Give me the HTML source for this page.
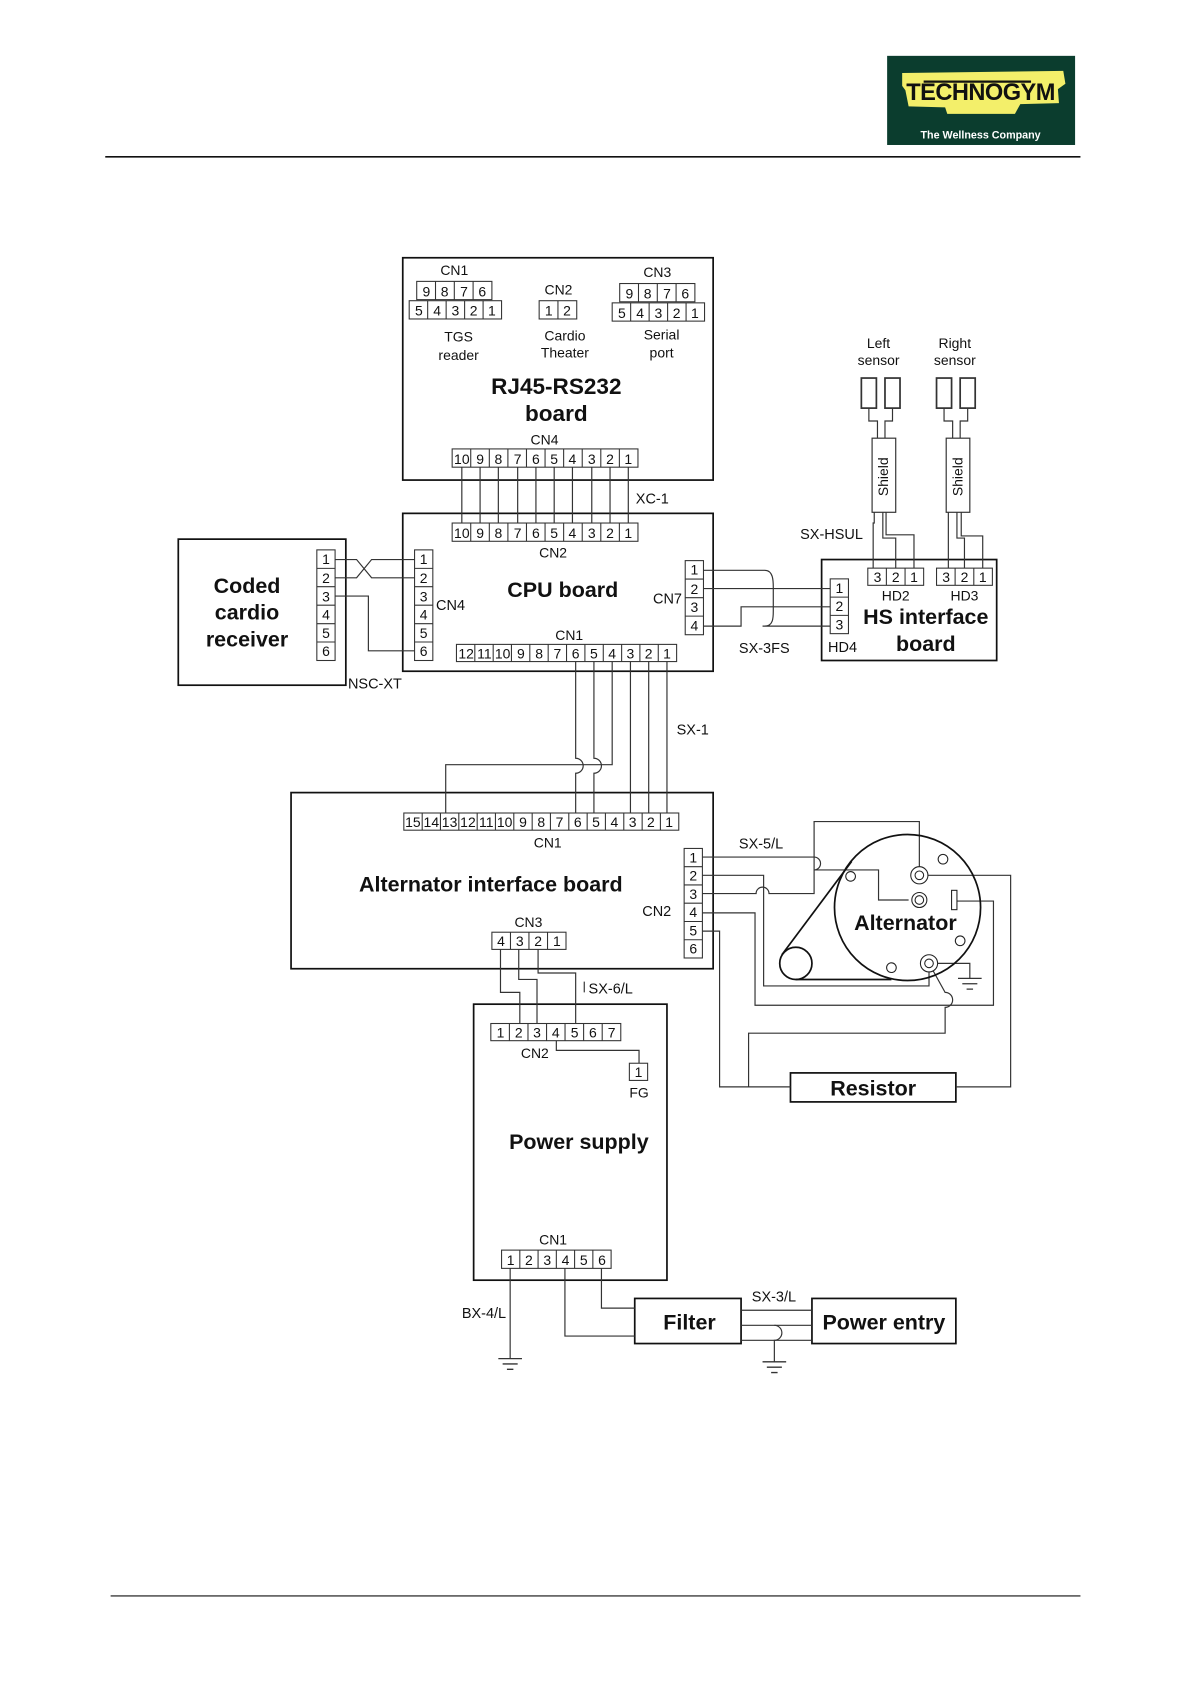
<!DOCTYPE html>
<html><head><meta charset="utf-8"><style>
html,body{margin:0;padding:0;background:#fff;}
svg{display:block;}
text{font-family:"Liberation Sans",Arial,sans-serif;fill:#111;}
.c{font-size:13px;text-anchor:middle;}
.l{font-size:13.5px;}
.b{font-weight:bold;text-anchor:middle;}
</style></head><body>
<svg width="1190" height="1684" viewBox="0 0 1108 1568" preserveAspectRatio="none" xmlns="http://www.w3.org/2000/svg">
<g fill="none" stroke="#111" stroke-width="1">
<line x1="98" y1="146" x2="1006" y2="146" stroke-width="1.5"/>
<line x1="103" y1="1486" x2="1006" y2="1486" stroke-width="1"/>
</g>
<rect x="826" y="52" width="175" height="83" fill="#0b3d2e"/>
<polygon points="840,68 990,66 992,78 985,83 986,96 950,97 945,106 882,106 880,100 846,99 843,84 840,80" fill="#f3ef6a"/>
<text x="913" y="93" style="font-size:22px;font-weight:bold;text-anchor:middle;fill:#111;letter-spacing:-0.5px">TECHNOGYM</text>
<line x1="860" y1="76" x2="960" y2="76" stroke="#111" stroke-width="2"/>
<text x="913" y="129" style="font-size:10px;font-weight:bold;text-anchor:middle;fill:#fff">The Wellness Company</text>

<g fill="none" stroke="#111" stroke-width="1.6">
<rect x="375" y="240" width="289" height="207"/>
<rect x="375" y="478" width="289" height="147"/>
<rect x="166" y="502" width="156" height="136"/>
<rect x="765" y="521" width="163" height="94"/>
<rect x="271" y="738" width="393" height="164"/>
<rect x="441" y="935" width="180" height="257"/>
<rect x="736" y="999" width="154" height="27"/>
<rect x="591" y="1209" width="99" height="42"/>
<rect x="756" y="1209" width="134" height="42"/>
</g>

<g fill="#fff" stroke="#333" stroke-width="1">
<rect x="388" y="262" width="70" height="17"/>
<rect x="381" y="280" width="86" height="17"/>
<rect x="502" y="280" width="35" height="17"/>
<rect x="577" y="264" width="70" height="17"/>
<rect x="570" y="282" width="86" height="17"/>
<rect x="421" y="418" width="173" height="17"/>
<rect x="421" y="487" width="173" height="17"/>
<rect x="386" y="512" width="17" height="103"/>
<rect x="295" y="512" width="17" height="103"/>
<rect x="638" y="522" width="17" height="69"/>
<rect x="425" y="600" width="205" height="16"/>
<rect x="808" y="529" width="52" height="16"/>
<rect x="872" y="529" width="52" height="16"/>
<rect x="773" y="539" width="17" height="51"/>
<rect x="376" y="757" width="256" height="16"/>
<rect x="637" y="790" width="17" height="102"/>
<rect x="458" y="868" width="69" height="16"/>
<rect x="457" y="953" width="121" height="16"/>
<rect x="586" y="990" width="17" height="16"/>
<rect x="467" y="1164" width="102" height="17"/>
</g>
<g stroke="#333" stroke-width="1">
<path d="M405.5 262v17M423 262v17M440.5 262v17M398.2 280v17M415.4 280v17M432.6 280v17M449.8 280v17"/>
<path d="M519.5 280v17"/>
<path d="M594.5 264v17M612 264v17M629.5 264v17M587.2 282v17M604.4 282v17M621.6 282v17M638.8 282v17"/>
<path d="M438.3 418v17M455.6 418v17M472.9 418v17M490.2 418v17M507.5 418v17M524.8 418v17M542.1 418v17M559.4 418v17M576.7 418v17"/>
<path d="M438.3 487v17M455.6 487v17M472.9 487v17M490.2 487v17M507.5 487v17M524.8 487v17M542.1 487v17M559.4 487v17M576.7 487v17"/>
<path d="M386 529.2h17M386 546.3h17M386 563.5h17M386 580.7h17M386 597.8h17"/>
<path d="M295 529.2h17M295 546.3h17M295 563.5h17M295 580.7h17M295 597.8h17"/>
<path d="M638 539.2h17M638 556.5h17M638 573.7h17"/>
<path d="M442.1 600v16M459.2 600v16M476.2 600v16M493.3 600v16M510.4 600v16M527.5 600v16M544.6 600v16M561.7 600v16M578.8 600v16M595.8 600v16M612.9 600v16"/>
<path d="M825.3 529v16M842.7 529v16M889.3 529v16M906.7 529v16"/>
<path d="M773 556h17M773 573h17"/>
<path d="M393.1 757v16M410.1 757v16M427.2 757v16M444.3 757v16M461.3 757v16M478.4 757v16M495.5 757v16M512.5 757v16M529.6 757v16M546.7 757v16M563.7 757v16M580.8 757v16M597.9 757v16M614.9 757v16"/>
<path d="M637 807h17M637 824h17M637 841h17M637 858h17M637 875h17"/>
<path d="M475.3 868v16M492.5 868v16M509.8 868v16"/>
<path d="M474.3 953v16M491.6 953v16M508.9 953v16M526.1 953v16M543.4 953v16M560.7 953v16"/>
<path d="M484 1164v17M501 1164v17M518 1164v17M535 1164v17M552 1164v17"/>
</g>

<g>
<text class="c" x="397" y="276">9</text><text class="c" x="414" y="276">8</text><text class="c" x="432" y="276">7</text><text class="c" x="449" y="276">6</text>
<text class="c" x="390" y="294">5</text><text class="c" x="407" y="294">4</text><text class="c" x="424" y="294">3</text><text class="c" x="441" y="294">2</text><text class="c" x="458" y="294">1</text>
<text class="c" x="511" y="294">1</text><text class="c" x="528" y="294">2</text>
<text class="c" x="586" y="278">9</text><text class="c" x="603" y="278">8</text><text class="c" x="621" y="278">7</text><text class="c" x="638" y="278">6</text>
<text class="c" x="579" y="296">5</text><text class="c" x="596" y="296">4</text><text class="c" x="613" y="296">3</text><text class="c" x="630" y="296">2</text><text class="c" x="647" y="296">1</text>
<text class="c" x="430" y="432">10</text><text class="c" x="447" y="432">9</text><text class="c" x="464" y="432">8</text><text class="c" x="482" y="432">7</text><text class="c" x="499" y="432">6</text><text class="c" x="516" y="432">5</text><text class="c" x="533" y="432">4</text><text class="c" x="551" y="432">3</text><text class="c" x="568" y="432">2</text><text class="c" x="585" y="432">1</text>
<text class="c" x="430" y="501">10</text><text class="c" x="447" y="501">9</text><text class="c" x="464" y="501">8</text><text class="c" x="482" y="501">7</text><text class="c" x="499" y="501">6</text><text class="c" x="516" y="501">5</text><text class="c" x="533" y="501">4</text><text class="c" x="551" y="501">3</text><text class="c" x="568" y="501">2</text><text class="c" x="585" y="501">1</text>
<text class="c" x="394.5" y="525">1</text><text class="c" x="394.5" y="543">2</text><text class="c" x="394.5" y="560">3</text><text class="c" x="394.5" y="577">4</text><text class="c" x="394.5" y="594">5</text><text class="c" x="394.5" y="611">6</text>
<text class="c" x="303.5" y="525">1</text><text class="c" x="303.5" y="543">2</text><text class="c" x="303.5" y="560">3</text><text class="c" x="303.5" y="577">4</text><text class="c" x="303.5" y="594">5</text><text class="c" x="303.5" y="611">6</text>
<text class="c" x="646.5" y="535">1</text><text class="c" x="646.5" y="553">2</text><text class="c" x="646.5" y="570">3</text><text class="c" x="646.5" y="587">4</text>
<text class="c" x="434" y="613">12</text><text class="c" x="451" y="613">11</text><text class="c" x="468" y="613">10</text><text class="c" x="485" y="613">9</text><text class="c" x="502" y="613">8</text><text class="c" x="519" y="613">7</text><text class="c" x="536" y="613">6</text><text class="c" x="553" y="613">5</text><text class="c" x="570" y="613">4</text><text class="c" x="587" y="613">3</text><text class="c" x="604" y="613">2</text><text class="c" x="621" y="613">1</text>
<text class="c" x="817" y="542">3</text><text class="c" x="834" y="542">2</text><text class="c" x="851" y="542">1</text>
<text class="c" x="881" y="542">3</text><text class="c" x="898" y="542">2</text><text class="c" x="915" y="542">1</text>
<text class="c" x="781.5" y="552">1</text><text class="c" x="781.5" y="569">2</text><text class="c" x="781.5" y="586">3</text>
<text class="c" x="384.5" y="770">15</text><text class="c" x="401.6" y="770">14</text><text class="c" x="418.6" y="770">13</text><text class="c" x="435.7" y="770">12</text><text class="c" x="452.8" y="770">11</text><text class="c" x="469.9" y="770">10</text><text class="c" x="487" y="770">9</text><text class="c" x="504" y="770">8</text><text class="c" x="521" y="770">7</text><text class="c" x="538" y="770">6</text><text class="c" x="555" y="770">5</text><text class="c" x="572" y="770">4</text><text class="c" x="589" y="770">3</text><text class="c" x="606" y="770">2</text><text class="c" x="623" y="770">1</text>
<text class="c" x="645.5" y="803">1</text><text class="c" x="645.5" y="820">2</text><text class="c" x="645.5" y="837">3</text><text class="c" x="645.5" y="854">4</text><text class="c" x="645.5" y="871">5</text><text class="c" x="645.5" y="888">6</text>
<text class="c" x="466.5" y="881">4</text><text class="c" x="484" y="881">3</text><text class="c" x="501" y="881">2</text><text class="c" x="518.5" y="881">1</text>
<text class="c" x="466" y="966">1</text><text class="c" x="483" y="966">2</text><text class="c" x="500" y="966">3</text><text class="c" x="517.5" y="966">4</text><text class="c" x="535" y="966">5</text><text class="c" x="552" y="966">6</text><text class="c" x="569.5" y="966">7</text>
<text class="c" x="594.5" y="1003">1</text>
<text class="c" x="475.5" y="1178">1</text><text class="c" x="492.5" y="1178">2</text><text class="c" x="509.5" y="1178">3</text><text class="c" x="526.5" y="1178">4</text><text class="c" x="543.5" y="1178">5</text><text class="c" x="560.5" y="1178">6</text>
</g>

<g>
<text class="c" x="423" y="256">CN1</text>
<text class="c" x="520" y="274">CN2</text>
<text class="c" x="612" y="258">CN3</text>
<text class="c" x="427" y="318">TGS</text><text class="c" x="427" y="335">reader</text>
<text class="c" x="526" y="317">Cardio</text><text class="c" x="526" y="333">Theater</text>
<text class="c" x="616" y="316">Serial</text><text class="c" x="616" y="333">port</text>
<text class="b" x="518" y="367" style="font-size:21px">RJ45-RS232</text>
<text class="b" x="518" y="392" style="font-size:21px">board</text>
<text class="c" x="507" y="414">CN4</text>
<text class="l" x="592" y="469">XC-1</text>
<text class="c" x="515" y="519">CN2</text>
<text class="b" x="524" y="556" style="font-size:20px">CPU board</text>
<text class="l" x="406" y="568">CN4</text>
<text class="l" x="608" y="562">CN7</text>
<text class="c" x="530" y="596">CN1</text>
<text class="b" x="230" y="552" style="font-size:20px">Coded</text>
<text class="b" x="230" y="577" style="font-size:20px">cardio</text>
<text class="b" x="230" y="602" style="font-size:20px">receiver</text>
<text class="l" x="324" y="641">NSC-XT</text>
<text class="c" x="818" y="324">Left</text><text class="c" x="818" y="340">sensor</text>
<text class="c" x="889" y="324">Right</text><text class="c" x="889" y="340">sensor</text>
<text class="l" x="745" y="502">SX-HSUL</text>
<text class="c" x="834" y="559">HD2</text>
<text class="c" x="898" y="559">HD3</text>
<text class="b" x="862" y="581" style="font-size:20px">HS interface</text>
<text class="b" x="862" y="606" style="font-size:20px">board</text>
<text class="l" x="771" y="607">HD4</text>
<text class="l" x="688" y="608">SX-3FS</text>
<text class="l" x="630" y="684">SX-1</text>
<text class="c" x="510" y="789">CN1</text>
<text class="b" x="457" y="830" style="font-size:20px">Alternator interface board</text>
<text class="l" x="598" y="853">CN2</text>
<text class="c" x="492" y="863">CN3</text>
<text class="l" x="688" y="790">SX-5/L</text>
<text class="b" x="843" y="866" style="font-size:20px">Alternator</text>
<text class="l" x="548" y="925">SX-6/L</text>
<text class="c" x="498" y="985">CN2</text>
<text class="c" x="595" y="1022">FG</text>
<text class="b" x="539" y="1070" style="font-size:20px">Power supply</text>
<text class="c" x="515" y="1159">CN1</text>
<text class="b" x="813" y="1020" style="font-size:20px">Resistor</text>
<text class="l" x="430" y="1227">BX-4/L</text>
<text class="l" x="700" y="1212">SX-3/L</text>
<text class="b" x="642" y="1238" style="font-size:20px">Filter</text>
<text class="b" x="823" y="1238" style="font-size:20px">Power entry</text>
<text x="0" y="0" transform="translate(827,462) rotate(-90)" style="font-size:13px">Shield</text>
<text x="0" y="0" transform="translate(896,462) rotate(-90)" style="font-size:13px">Shield</text>
</g>

<g fill="none" stroke="#333" stroke-width="1.1">
<path d="M430 435v52M447 435v52M464 435v52M482 435v52M499 435v52M516 435v52M533 435v52M551 435v52M568 435v52M585 435v52"/>
<path d="M312 521h20l14 17h40"/>
<path d="M312 538h20l14-17h40"/>
<path d="M312 555h31v51h43"/>
<path d="M655 531h57c8 0 8 10 8 16v22c0 6 0 14-8 14h-2h63"/>
<path d="M655 548h118"/>
<path d="M655 583h35v-18h83"/>
<rect x="802" y="352" width="14" height="28" stroke-width="1.6"/>
<rect x="824" y="352" width="14" height="28" stroke-width="1.6"/>
<rect x="872" y="352" width="14" height="28" stroke-width="1.6"/>
<rect x="894" y="352" width="14" height="28" stroke-width="1.6"/>
<path d="M809 380v12h8v16M831 380v12h-7v16"/>
<path d="M879 380v12h8v16M901 380v12h-7v16"/>
<rect x="812" y="408" width="22" height="69"/>
<rect x="881" y="408" width="22" height="69"/>
<path d="M814 477v10h-1v42M822 477v24h12v28M825 477v21h26v31"/>
<path d="M883 477v52M891 477v24h7v28M895 477v22h20v30"/>
<path d="M536 616v90a7 7 0 0 1 0 14v37"/>
<path d="M553 616v90a7 7 0 0 1 0 14v37"/>
<path d="M570 616v96h-155v45"/>
<path d="M587 616v141M604 616v141M621 616v141"/>
<path d="M466 884v40h18v29"/>
<path d="M483 884v28h17v41"/>
<path d="M501 884v22h35v47"/>
<path d="M544 914v10"/>
<path d="M518 969v9h77v12"/>
<path d="M654 798h104a6 6 0 0 1 0 12h60v28h28"/>
<path d="M654 815h57v103h154v-13"/>
<path d="M654 832h50a6 6 0 0 1 12 0h42v-67h98v48"/>
<path d="M654 850h49v86h222v-97h-35"/>
<path d="M654 867h16v145h66"/>
<path d="M865 897l15 27a7 7 0 0 1 0 14v24h-183v50"/>
<path d="M870 897h33v14"/>
<path d="M856 815h85v197h-51"/>
<path d="M475 1181v84"/>
<path d="M526 1181v63h65"/>
<path d="M560 1181v37h31"/>
<path d="M690 1220h66M690 1234h66M690 1248h66"/>
<path d="M721 1234a7 7 0 0 1 0 14v20"/>
</g>
<g stroke="#333" stroke-width="1.2">
<path d="M464 1265h22M468 1270h14M472 1275h6"/>
<path d="M710 1268h22M714 1273h14M718 1278h6"/>
<path d="M892 911h22M896 916h14M900 921h6"/>
</g>
<g fill="none" stroke="#111" stroke-width="1.6">
<circle cx="845" cy="845" r="68"/>
<circle cx="741" cy="897" r="15"/>
<path d="M728 889L793 802"/>
<path d="M741 912H830"/>
</g>
<g fill="#fff" stroke="#222" stroke-width="1">
<circle cx="856" cy="815" r="8"/><circle cx="856" cy="815" r="4"/>
<circle cx="856" cy="838" r="7"/><circle cx="856" cy="838" r="4"/>
<circle cx="865" cy="897" r="8"/><circle cx="865" cy="897" r="4"/>
<circle cx="878" cy="800" r="4.5"/>
<circle cx="792" cy="816" r="4.5"/>
<circle cx="894" cy="876" r="4.5"/>
<circle cx="830" cy="901" r="4.5"/>
<rect x="886" y="829" width="5" height="18"/>
</g>
</svg>
</body></html>
